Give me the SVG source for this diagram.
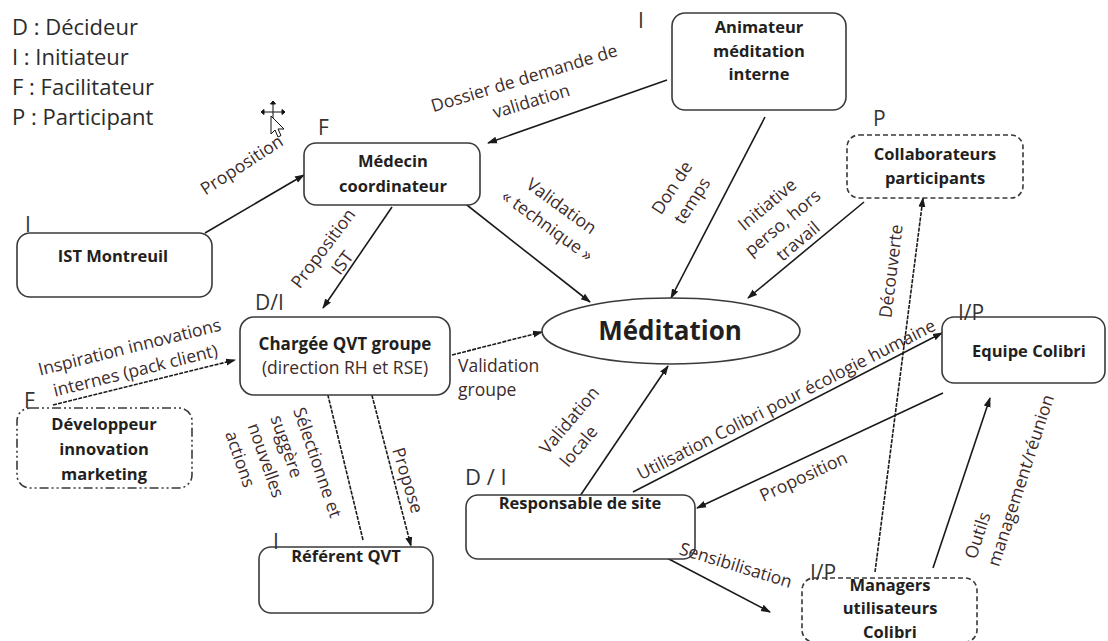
<svg xmlns="http://www.w3.org/2000/svg" width="1108" height="641" viewBox="0 0 1108 641">
<defs>
<marker id="ah" markerWidth="10" markerHeight="8" refX="9" refY="4" orient="auto" markerUnits="userSpaceOnUse"><path d="M0,0.5 L10,4 L0,7.5 z" fill="#1a1a1a"/></marker>
</defs>
<style>
.box{fill:#fff;stroke:#3a3a3a;stroke-width:1.6}
.dash{stroke-dasharray:5 3}
.dashdot{stroke-dasharray:9 3 2 3 2 3}
.nt{font-family:'Open Sans',sans-serif;font-weight:bold;font-size:16.5px;fill:#231f20;text-anchor:middle}
.nr{font-family:'Open Sans',sans-serif;font-size:17.5px;fill:#3d2b2b;text-anchor:middle}
.lbl{font-family:'Open Sans',sans-serif;font-size:17.5px;fill:#3d2b2b;text-anchor:middle}
.st{text-anchor:start}
.role{font-family:'Open Sans',sans-serif;font-size:21px;fill:#333}
.leg{font-family:'Open Sans',sans-serif;font-size:22px;fill:#2b2b2b}
.c{fill:none;stroke:#1a1a1a;stroke-width:1.6;marker-end:url(#ah)}
.d{stroke-dasharray:4 1.2}
</style>
<rect width="1108" height="641" fill="#fff"/>

<g id="legend">
<text class="leg" x="12" y="35">D : Décideur</text>
<text class="leg" x="12" y="65">I : Initiateur</text>
<text class="leg" x="12" y="95">F : Facilitateur</text>
<text class="leg" x="12" y="125">P : Participant</text>
</g>

<g id="cursor" stroke="#111" stroke-width="1" fill="#fff">
<path d="M263,112 L283,112 M273,103 L273,121" fill="none"/>
<path d="M261,112 l3,-2.5 v5 z M285,112 l-3,-2.5 v5 z M273,101 l-2.5,3 h5 z" fill="#111"/>
<path d="M271,116 L271,134 L275,130 L278,137 L281,135.5 L278,129 L284,129 Z"/>
</g>

<g id="connectors">
<path class="c" d="M205,233 L304,175"/>
<path class="c" d="M667,80 L488,143"/>
<path class="c" d="M458,198 L590,302"/>
<path class="c" d="M392,207 L323,308"/>
<path class="c d" d="M452,355 L542,332"/>
<path class="c" d="M765,117 L671,298"/>
<path class="c" d="M864,202 L748,298"/>
<path class="c d" d="M875,572 L923,198"/>
<path class="c d" d="M363,540 L325,383"/>
<path class="c d" d="M368,380 L411,546"/>
<path class="c d" d="M53,405 L235,360"/>
<path class="c" d="M580,496 L668,366"/>
<path class="c" d="M633,492 L942,333"/>
<path class="c" d="M943,393 L697,508"/>
<path class="c" d="M933,568 L990,398"/>
<path class="c" d="M665,557 L770,612"/>
</g>

<g id="animateur">
<rect class="box" x="672" y="13" width="174" height="97" rx="13"/>
<text class="nt" x="759" y="33">Animateur</text>
<text class="nt" x="759" y="57">méditation</text>
<text class="nt" x="759" y="80">interne</text>
<text class="role" x="638" y="28">I</text>
</g>

<g id="medecin">
<rect class="box" x="304" y="143" width="176" height="62" rx="12"/>
<text class="nt" x="393" y="167">Médecin</text>
<text class="nt" x="393" y="192">coordinateur</text>
<text class="role" x="318" y="135">F</text>
</g>

<g id="ist">
<rect class="box" x="17" y="233" width="195" height="64" rx="13"/>
<text class="nt" x="113" y="262">IST Montreuil</text>
<text class="role" x="25" y="232">I</text>
</g>

<g id="chargee">
<rect class="box" x="240" y="317" width="210" height="78" rx="14"/>
<text class="nt" x="345" y="350" style="font-size:17px">Chargée QVT groupe</text>
<text class="nr" x="345" y="374">(direction RH et RSE)</text>
<text class="role" x="255" y="310">D/I</text>
</g>

<g id="developpeur">
<rect class="box dashdot" x="17" y="408" width="175" height="80" rx="13"/>
<text class="nt" x="104" y="430">Développeur</text>
<text class="nt" x="104" y="455">innovation</text>
<text class="nt" x="104" y="480">marketing</text>
<text class="role" x="24" y="408">F</text>
</g>

<g id="referent">
<rect class="box" x="259" y="547" width="174" height="66" rx="12"/>
<text class="nt" x="346" y="562">Référent QVT</text>
<text class="role" x="273" y="549">I</text>
</g>

<g id="responsable">
<rect class="box" x="466" y="495" width="229" height="64" rx="12"/>
<text class="nt" x="580" y="509">Responsable de site</text>
<text class="role" x="465" y="485" style="font-size:22px">D / I</text>
</g>

<g id="managers">
<rect class="box dash" x="802" y="578" width="175" height="64" rx="12"/>
<text class="nt" x="890" y="591">Managers</text>
<text class="nt" x="890" y="614">utilisateurs</text>
<text class="nt" x="890" y="638">Colibri</text>
<text class="role" x="810" y="580">I/P</text>
</g>

<g id="equipe">
<rect class="box" x="942" y="317" width="163" height="66" rx="12"/>
<text class="nt" x="1029" y="357">Equipe Colibri</text>
<text class="role" x="958" y="320">I/P</text>
</g>

<g id="collaborateurs">
<rect class="box dash" x="847" y="135" width="176" height="63" rx="12"/>
<text class="nt" x="935" y="160">Collaborateurs</text>
<text class="nt" x="935" y="184">participants</text>
<text class="role" x="873" y="126">P</text>
</g>

<g id="meditation">
<ellipse class="box" cx="671" cy="331" rx="129" ry="33"/>
<text class="nt" x="670" y="340" style="font-size:26px">Méditation</text>
</g>

<g id="connector-labels">
<text class="lbl" transform="translate(245,170) rotate(-33)">Proposition</text>
<text class="lbl" transform="translate(526,84) rotate(-17)"><tspan x="0" y="0">Dossier de demande de</tspan><tspan x="0" y="24">validation</tspan></text>
<text class="lbl" transform="translate(558,211) rotate(36)"><tspan x="0" y="0">Validation</tspan><tspan x="0" y="24">« technique »</tspan></text>
<text class="lbl" transform="translate(328,252) rotate(-53)"><tspan x="0" y="0">Proposition</tspan><tspan x="0" y="24">IST</tspan></text>
<text class="lbl st" x="458" y="372">Validation</text>
<text class="lbl st" x="458" y="396">groupe</text>
<text class="lbl" transform="translate(677,191) rotate(-57)"><tspan x="0" y="0">Don de</tspan><tspan x="0" y="24">temps</tspan></text>
<text class="lbl" transform="translate(771,209) rotate(-40)"><tspan x="0" y="0">Initiative</tspan><tspan x="0" y="24">perso, hors</tspan><tspan x="0" y="48">travail</tspan></text>
<text class="lbl" transform="translate(897,272) rotate(-83)">Découverte</text>
<text class="lbl st" transform="translate(293,410) rotate(71)"><tspan x="0" y="0">Sélectionne et</tspan><tspan x="0" y="24">suggère</tspan><tspan x="0" y="48">nouvelles</tspan><tspan x="0" y="72">actions</tspan></text>
<text class="lbl" transform="translate(402,482) rotate(73)">Propose</text>
<text class="lbl" transform="translate(131,353) rotate(-14)"><tspan x="0" y="0">Inspiration innovations</tspan><tspan x="0" y="24">internes (pack client)</tspan></text>
<text class="lbl" transform="translate(574,424) rotate(-50)"><tspan x="0" y="0">Validation</tspan><tspan x="-14" y="24">locale</tspan></text>
<text class="lbl" transform="translate(789,405) rotate(-27)">Utilisation Colibri pour écologie humaine</text>
<text class="lbl" transform="translate(806,482) rotate(-25)">Proposition</text>
<text class="lbl st" transform="translate(976,560) rotate(-72)"><tspan x="0" y="0">Outils</tspan><tspan x="0" y="24">management/réunion</tspan></text>
<text class="lbl" transform="translate(734,571) rotate(17)">Sensibilisation</text>
</g>
</svg>
